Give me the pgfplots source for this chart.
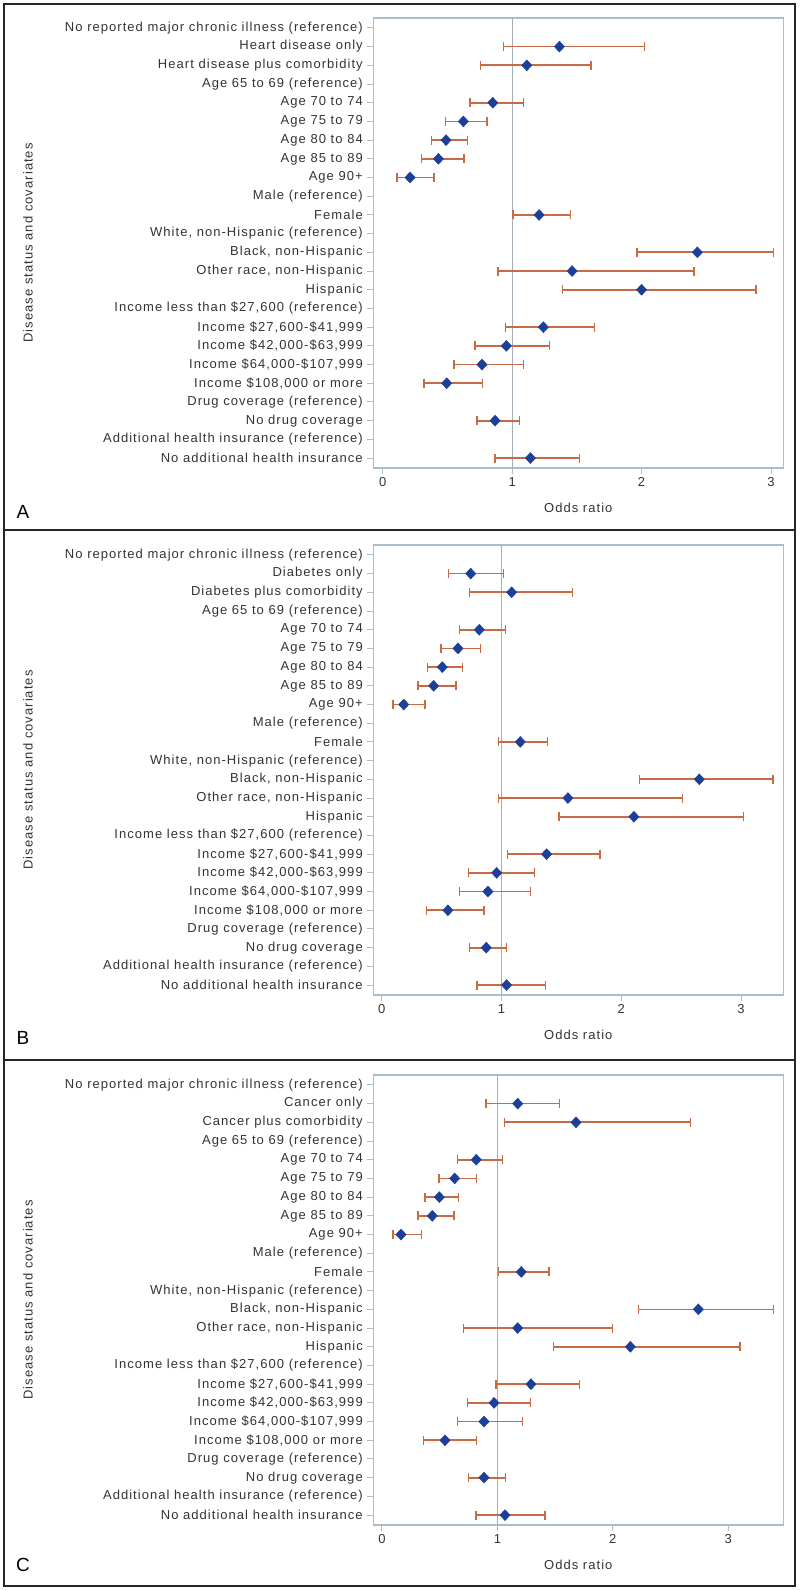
\documentclass[border=0pt]{standalone}
\usepackage{pgfplots}
\pgfplotsset{compat=1.18}
\usepackage{pgfplotstable}
\usepackage{fontspec}
\setmainfont{Liberation Sans}
\newfontfamily\spaced[LetterSpace=8]{Liberation Sans}

\definecolor{framecol}{HTML}{A9BDCC}
\definecolor{refcol}{HTML}{A4AEB8}
\definecolor{ptcol}{HTML}{1C3F97}
\definecolor{barcol}{HTML}{C96A42}
\definecolor{txt}{HTML}{333333}

% row, odds ratio, lower CI, upper CI
\pgfplotstableread{
row or lo hi
2 1.365 0.932 2.022
3 1.113 0.757 1.610
5 0.850 0.675 1.087
6 0.623 0.484 0.806
7 0.489 0.376 0.654
8 0.430 0.301 0.626
9 0.211 0.110 0.396
11 1.208 1.007 1.450
13 2.431 1.963 3.020
14 1.463 0.891 2.406
15 2.000 1.388 2.885
17 1.241 0.950 1.635
18 0.955 0.713 1.288
19 0.767 0.551 1.087
20 0.494 0.317 0.770
22 0.868 0.729 1.058
24 1.141 0.868 1.522
}\heart
\pgfplotstableread{
row or lo hi
2 0.743 0.556 1.015
3 1.085 0.734 1.594
5 0.815 0.651 1.032
6 0.637 0.495 0.823
7 0.506 0.384 0.676
8 0.434 0.303 0.620
9 0.184 0.094 0.361
11 1.157 0.977 1.386
13 2.652 2.151 3.269
14 1.555 0.974 2.513
15 2.106 1.480 3.019
17 1.377 1.049 1.822
18 0.960 0.726 1.274
19 0.887 0.651 1.244
20 0.553 0.376 0.854
22 0.873 0.734 1.043
24 1.043 0.795 1.366
}\diab
\pgfplotstableread{
row or lo hi
2 1.176 0.901 1.537
3 1.681 1.060 2.672
5 0.817 0.656 1.043
6 0.630 0.494 0.817
7 0.497 0.375 0.664
8 0.436 0.312 0.624
9 0.165 0.095 0.341
11 1.207 1.011 1.447
13 2.741 2.221 3.394
14 1.176 0.708 1.996
15 2.152 1.488 3.100
17 1.291 0.988 1.710
18 0.971 0.742 1.288
19 0.884 0.656 1.216
20 0.546 0.358 0.817
22 0.884 0.748 1.072
24 1.066 0.815 1.413
}\cancer

\newcommand{\lbl}{\spaced\fontsize{13}{15}\selectfont}

\pgfplotsset{
  forest/.style={
    scale only axis, width=410pt, height=450pt,
    anchor=north west,
    y dir=reverse, ymin=0.47, ymax=24.53,
    axis line style={framecol, line width=1.2pt},
    tick style={framecol, line width=1pt},
    tick align=outside, major tick length=6pt,
    xtick pos=bottom, ytick pos=left,
    xtick={0,1,2,3}, xticklabels={0,1,2,3},
    ytick={1,...,24},
    xticklabel style={font=\lbl, text=txt},
    yticklabel style={font=\lbl, text=txt, xshift=-1pt},
    xlabel={Odds ratio},
    xlabel style={font=\lbl, text=txt, at={(axis description cs:0.5,0)}, anchor=center, yshift=-40pt},
    ylabel={Disease status and covariates},
    ylabel style={font=\lbl, text=txt, at={(axis description cs:-0.842,0.5)}, anchor=center},
    clip=false,
  },
  ci/.style={
    only marks, mark=diamond*, mark size=5.5pt,
    mark options={ptcol, draw=ptcol, fill=ptcol, xscale=1.25},
    error bars/.cd, x dir=both, x explicit,
    error bar style={barcol, line width=1.7pt},
    error mark options={barcol, line width=1.5pt, mark size=4.5pt, rotate=90},
  },
}

\begin{document}
\begin{tikzpicture}[x=1pt,y=1pt]
\path (0,0) rectangle (800,1590);
\draw[line width=2pt, black!85] (4,1060) rectangle (795,1586);
\draw[line width=2pt, black!85] (4,530) rectangle (795,1060);
\draw[line width=2pt, black!85] (4,4) rectangle (795,530);

% Panel A
\begin{axis}[forest, at={(373.3pt,1572pt)}, xmin=-0.073, xmax=3.095,
  yticklabels={No reported major chronic illness (reference), Heart disease only, Heart disease plus comorbidity, Age 65 to 69 (reference), Age 70 to 74, Age 75 to 79, Age 80 to 84, Age 85 to 89, Age 90+, Male (reference), Female, {White, non-Hispanic (reference)}, {Black, non-Hispanic}, {Other race, non-Hispanic}, Hispanic, {Income less than \$27,600 (reference)}, {Income \$27,600-\$41,999}, {Income \$42,000-\$63,999}, {Income \$64,000-\$107,999}, {Income \$108,000 or more}, Drug coverage (reference), No drug coverage, Additional health insurance (reference), No additional health insurance}]
\addplot[refcol, line width=1.3pt] coordinates {(1,0.47) (1,24.53)};
\addplot[ci] table[x=or, y=row, x error plus expr=\thisrow{hi}-\thisrow{or}, x error minus expr=\thisrow{or}-\thisrow{lo}] {\heart};
\end{axis}
\node[font=\fontsize{19}{22}\selectfont, text=black] at (23,1078) {A};

% Panel B
\begin{axis}[forest, at={(373.3pt,1045pt)}, xmin=-0.07, xmax=3.353,
  yticklabels={No reported major chronic illness (reference), Diabetes only, Diabetes plus comorbidity, Age 65 to 69 (reference), Age 70 to 74, Age 75 to 79, Age 80 to 84, Age 85 to 89, Age 90+, Male (reference), Female, {White, non-Hispanic (reference)}, {Black, non-Hispanic}, {Other race, non-Hispanic}, Hispanic, {Income less than \$27,600 (reference)}, {Income \$27,600-\$41,999}, {Income \$42,000-\$63,999}, {Income \$64,000-\$107,999}, {Income \$108,000 or more}, Drug coverage (reference), No drug coverage, Additional health insurance (reference), No additional health insurance}]
\addplot[refcol, line width=1.3pt] coordinates {(1,0.47) (1,24.53)};
\addplot[ci] table[x=or, y=row, x error plus expr=\thisrow{hi}-\thisrow{or}, x error minus expr=\thisrow{or}-\thisrow{lo}] {\diab};
\end{axis}
\node[font=\fontsize{19}{22}\selectfont, text=black] at (23,552) {B};

% Panel C
\begin{axis}[forest, at={(373.3pt,515pt)}, xmin=-0.075, xmax=3.477,
  yticklabels={No reported major chronic illness (reference), Cancer only, Cancer plus comorbidity, Age 65 to 69 (reference), Age 70 to 74, Age 75 to 79, Age 80 to 84, Age 85 to 89, Age 90+, Male (reference), Female, {White, non-Hispanic (reference)}, {Black, non-Hispanic}, {Other race, non-Hispanic}, Hispanic, {Income less than \$27,600 (reference)}, {Income \$27,600-\$41,999}, {Income \$42,000-\$63,999}, {Income \$64,000-\$107,999}, {Income \$108,000 or more}, Drug coverage (reference), No drug coverage, Additional health insurance (reference), No additional health insurance}]
\addplot[refcol, line width=1.3pt] coordinates {(1,0.47) (1,24.53)};
\addplot[ci] table[x=or, y=row, x error plus expr=\thisrow{hi}-\thisrow{or}, x error minus expr=\thisrow{or}-\thisrow{lo}] {\cancer};
\end{axis}
\node[font=\fontsize{19}{22}\selectfont, text=black] at (23,25) {C};
\end{tikzpicture}
\end{document}
